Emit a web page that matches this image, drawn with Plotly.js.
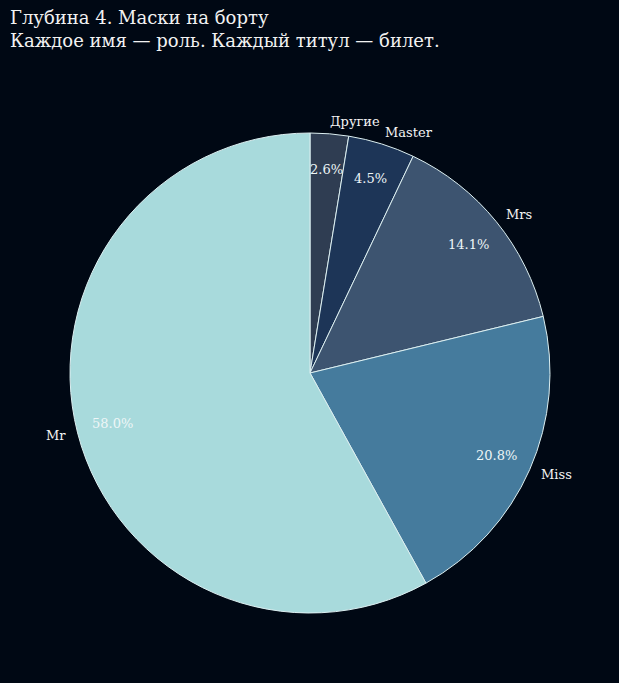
<!DOCTYPE html>
<html>
<head>
<meta charset="utf-8">
<script src="https://cdn.plot.ly/plotly-3.0.1.min.js"></script>
<style>html,body{margin:0;padding:0;background:#000814;}</style>
</head>
<body>
<div id="chart" style="width:619px;height:683px;"></div>
<script>
const labels = ["Другие", "Master", "Mrs", "Miss", "Mr"];
const counts = [23, 40, 126, 185, 517];
const colors = ["#2f3d52", "#1d3557", "#3d5470", "#457b9d", "#a8dadc"];
const titleLines = ["Глубина 4. Маски на борту", "Каждое имя — роль. Каждый титул — билет."];

const total = counts.reduce((a, b) => a + b, 0);
const annotations = [];
let cum = 0;
const FONT = "DejaVu Serif";
counts.forEach((v, i) => {
  const frac = v / total;
  const midDeg = 90 - (cum + frac / 2) * 360;
  cum += frac;
  const a = midDeg * Math.PI / 180;
  const c = Math.cos(a), s = Math.sin(a);
  annotations.push({
    xref: "paper", yref: "paper",
    x: 0.5 + 0.5 * 1.05 * c, y: 0.5 + 0.5 * 1.05 * s,
    xshift: c >= 0 ? -2 : 2,
    text: labels[i], showarrow: false,
    xanchor: c >= 0 ? "left" : "right", yanchor: "middle",
    font: {family: FONT, size: 13, color: "#f4f4f4"}
  });
  annotations.push({
    xref: "paper", yref: "paper",
    x: 0.5 + 0.5 * 0.85 * c, y: 0.5 + 0.5 * 0.85 * s,
    text: (frac * 100).toFixed(1) + "%", showarrow: false,
    xanchor: "center", yanchor: "middle",
    font: {family: FONT, size: 13, color: "#eef6f7"}
  });
});

// title drawn as an annotation anchored to the top-left of the figure
annotations.push({
  xref: "paper", yref: "paper",
  x: (8 - 70) / 480, y: (613 - 5) / 480,
  xanchor: "left", yanchor: "top", align: "left",
  text: titleLines.join("<br>"), showarrow: false,
  font: {family: FONT, size: 18, color: "#f2f2f2"}
});

const data = [{
  type: "pie",
  labels: labels,
  values: counts,
  sort: false,
  direction: "clockwise",
  rotation: 0,
  textinfo: "none",
  hoverinfo: "label+percent",
  marker: {colors: colors, line: {color: "#dceff1", width: 1}},
  showlegend: false
}];

const layout = {
  width: 619, height: 683,
  paper_bgcolor: "#000814",
  plot_bgcolor: "#000814",
  margin: {l: 70, r: 69, t: 133, b: 70, pad: 0},
  annotations: annotations
};

Plotly.newPlot("chart", data, layout, {displayModeBar: false});
</script>
</body>
</html>
